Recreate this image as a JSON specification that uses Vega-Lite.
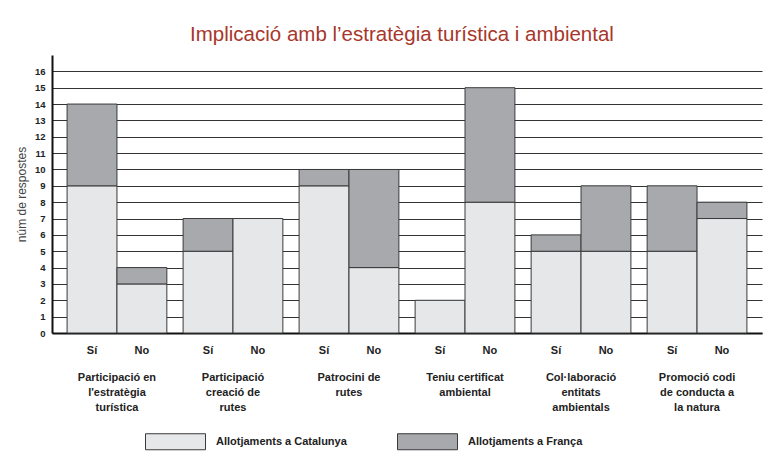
{
  "$schema": "https://vega.github.io/schema/vega-lite/v6.json",
  "width": 710,
  "height": 278,
  "autosize": {"type": "none"},
  "padding": {"left": 52, "top": 55, "right": 16, "bottom": 129},
  "background": "white",
  "title": {
    "text": "Implicació amb l’estratègia turística i ambiental",
    "font": "Liberation Sans",
    "fontSize": 20.5,
    "fontWeight": "normal",
    "color": "#a8372b",
    "anchor": "middle",
    "offset": 10,
    "dx": -5
  },
  "data": {
    "values": [
      {"grup": "Participació en|l'estratègia|turística", "resposta": "Sí", "serie": "Allotjaments a Catalunya", "n": 9},
      {"grup": "Participació en|l'estratègia|turística", "resposta": "Sí", "serie": "Allotjaments a França", "n": 5},
      {"grup": "Participació en|l'estratègia|turística", "resposta": "No", "serie": "Allotjaments a Catalunya", "n": 3},
      {"grup": "Participació en|l'estratègia|turística", "resposta": "No", "serie": "Allotjaments a França", "n": 1},
      {"grup": "Participació|creació de|rutes", "resposta": "Sí", "serie": "Allotjaments a Catalunya", "n": 5},
      {"grup": "Participació|creació de|rutes", "resposta": "Sí", "serie": "Allotjaments a França", "n": 2},
      {"grup": "Participació|creació de|rutes", "resposta": "No", "serie": "Allotjaments a Catalunya", "n": 7},
      {"grup": "Patrocini de|rutes", "resposta": "Sí", "serie": "Allotjaments a Catalunya", "n": 9},
      {"grup": "Patrocini de|rutes", "resposta": "Sí", "serie": "Allotjaments a França", "n": 1},
      {"grup": "Patrocini de|rutes", "resposta": "No", "serie": "Allotjaments a Catalunya", "n": 4},
      {"grup": "Patrocini de|rutes", "resposta": "No", "serie": "Allotjaments a França", "n": 6},
      {"grup": "Teniu certificat|ambiental", "resposta": "Sí", "serie": "Allotjaments a Catalunya", "n": 2},
      {"grup": "Teniu certificat|ambiental", "resposta": "No", "serie": "Allotjaments a Catalunya", "n": 8},
      {"grup": "Teniu certificat|ambiental", "resposta": "No", "serie": "Allotjaments a França", "n": 7},
      {"grup": "Col·laboració|entitats|ambientals", "resposta": "Sí", "serie": "Allotjaments a Catalunya", "n": 5},
      {"grup": "Col·laboració|entitats|ambientals", "resposta": "Sí", "serie": "Allotjaments a França", "n": 1},
      {"grup": "Col·laboració|entitats|ambientals", "resposta": "No", "serie": "Allotjaments a Catalunya", "n": 5},
      {"grup": "Col·laboració|entitats|ambientals", "resposta": "No", "serie": "Allotjaments a França", "n": 4},
      {"grup": "Promoció codi|de conducta a|la natura", "resposta": "Sí", "serie": "Allotjaments a Catalunya", "n": 5},
      {"grup": "Promoció codi|de conducta a|la natura", "resposta": "Sí", "serie": "Allotjaments a França", "n": 4},
      {"grup": "Promoció codi|de conducta a|la natura", "resposta": "No", "serie": "Allotjaments a Catalunya", "n": 7},
      {"grup": "Promoció codi|de conducta a|la natura", "resposta": "No", "serie": "Allotjaments a França", "n": 1}
    ]
  },
  "encoding": {
    "x": {
      "field": "grup",
      "type": "nominal",
      "sort": null,
      "scale": {"paddingInner": 0.14, "paddingOuter": 0.13},
      "axis": {
        "title": null,
        "labelAngle": 0,
        "labelExpr": "split(datum.label, '|')",
        "labelPadding": 38,
        "labelLineHeight": 15,
        "labelBaseline": "top",
        "labelFont": "Liberation Sans",
        "labelFontSize": 11,
        "labelFontWeight": "bold",
        "labelColor": "#222",
        "labelLimit": 200,
        "ticks": false,
        "domainColor": "#111",
        "domainWidth": 2,
        "grid": false
      }
    },
    "xOffset": {
      "field": "resposta",
      "type": "nominal",
      "sort": ["Sí", "No"],
      "scale": {"paddingInner": 0, "paddingOuter": 0}
    }
  },
  "layer": [
    {
      "mark": {"type": "bar", "stroke": "#3a3a3a", "strokeWidth": 1},
      "encoding": {
        "y": {
          "field": "n",
          "type": "quantitative",
          "stack": "zero",
          "scale": {"domain": [0, 17], "nice": false},
          "axis": {
            "title": "núm de respostes",
            "titleFont": "Liberation Sans",
            "titleFontSize": 12,
            "titleFontWeight": "normal",
            "titleColor": "#444",
            "titlePadding": 6,
            "values": [0, 1, 2, 3, 4, 5, 6, 7, 8, 9, 10, 11, 12, 13, 14, 15, 16],
            "labelOverlap": false,
            "labelFlush": false,
            "labelFont": "Liberation Sans",
            "labelFontSize": 9.5,
            "labelFontWeight": "bold",
            "labelColor": "#222",
            "labelPadding": 7,
            "ticks": false,
            "domainColor": "#111",
            "domainWidth": 2,
            "grid": true,
            "gridColor": "#333",
            "gridWidth": 1,
            "gridOpacity": 1
          }
        },
        "order": {"field": "serie", "sort": "ascending"},
        "color": {
          "field": "serie",
          "type": "nominal",
          "scale": {
            "domain": ["Allotjaments a Catalunya", "Allotjaments a França"],
            "range": ["#e6e7e8", "#a7a9ac"]
          },
          "legend": {
            "title": null,
            "orient": "none",
            "legendX": 93,
            "legendY": 356,
            "direction": "horizontal",
            "symbolType": "M-1,-0.267H1V0.267H-1Z",
            "symbolSize": 3600,
            "symbolStrokeColor": "#3a3a3a",
            "symbolStrokeWidth": 1,
            "labelFont": "Liberation Sans",
            "labelFontSize": 11,
            "labelFontWeight": "bold",
            "labelColor": "#222",
            "labelOffset": 10,
            "columnPadding": 48,
            "labelLimit": 300
          }
        }
      }
    },
    {
      "transform": [{"filter": "datum.serie === 'Allotjaments a Catalunya'"}],
      "mark": {
        "type": "text",
        "dy": 18,
        "baseline": "middle",
        "font": "Liberation Sans",
        "fontSize": 11,
        "fontWeight": "bold",
        "color": "#222"
      },
      "encoding": {
        "y": {
          "datum": 0,
          "type": "quantitative",
          "axis": {
            "title": "núm de respostes",
            "titleFont": "Liberation Sans",
            "titleFontSize": 12,
            "titleFontWeight": "normal",
            "titleColor": "#444",
            "titlePadding": 6,
            "values": [0, 1, 2, 3, 4, 5, 6, 7, 8, 9, 10, 11, 12, 13, 14, 15, 16],
            "labelOverlap": false,
            "labelFlush": false,
            "labelFont": "Liberation Sans",
            "labelFontSize": 9.5,
            "labelFontWeight": "bold",
            "labelColor": "#222",
            "labelPadding": 7,
            "ticks": false,
            "domainColor": "#111",
            "domainWidth": 2,
            "grid": true,
            "gridColor": "#333",
            "gridWidth": 1,
            "gridOpacity": 1
          }
        },
        "text": {"field": "resposta"}
      }
    }
  ],
  "config": {
    "view": {"stroke": null}
  }
}
